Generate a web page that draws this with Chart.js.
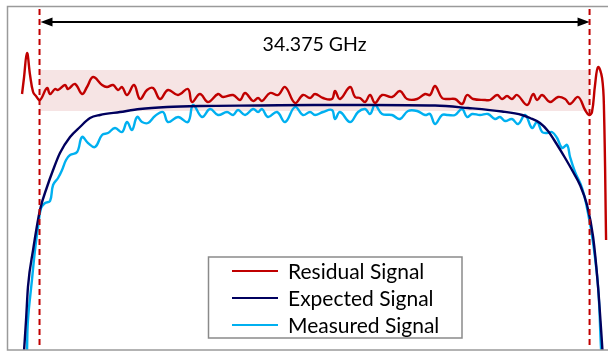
<!DOCTYPE html>
<html lang="en">
<head>
<meta charset="UTF-8">
<title>Signal spectrum</title>
<script src="https://cdn.jsdelivr.net/npm/chart.js"></script>
<style>
  html, body { margin: 0; padding: 0; background: #fff; overflow: hidden; }
  canvas { display: block; }
</style>
</head>
<body>
<canvas id="spectrum" width="608" height="353"></canvas>
<script>
// frequency offset from band centre (GHz) and relative level (dB)
const resFreq = [
  -18.28, -18.16, -17.97, -17.78, -17.59, -17.41, -17.16, -16.72, -16.53, -16.22,
  -16.03, -15.59, -15.41, -14.97, -14.53, -14.22, -13.84, -13.28, -12.97, -12.59,
  -12.28, -12.03, -11.72, -11.28, -10.91, -10.47, -10.09, -9.66, -9.16, -8.53,
  -7.91, -7.66, -7.16, -6.66, -6.03, -5.72, -5.09, -4.66, -4.34, -3.84,
  -3.53, -3.28, -2.78, -2.28, -1.84, -1.22, -0.72, -0.28, 0.03, 0.53,
  1.09, 1.28, 1.59, 2.22, 2.53, 2.84, 3.16, 3.47, 3.78, 4.22,
  4.84, 5.34, 5.78, 6.41, 6.91, 7.22, 7.53, 7.97, 8.34, 8.78,
  9.22, 9.53, 9.91, 10.66, 10.97, 11.41, 11.72, 12.03, 12.34, 12.66,
  13.28, 13.66, 13.91, 14.22, 14.72, 15.22, 15.66, 15.97, 16.47, 16.91,
  17.16, 17.34, 17.53, 17.72, 17.97, 18.09, 18.22
];
const resLevel = [
  -8.8, -7.2, -4.7, -6.9, -8.6, -9.0, -9.4, -8.2, -8.8, -8.3,
  -8.4, -7.9, -8.3, -7.8, -8.8, -8.1, -7.1, -7.9, -8.1, -7.9,
  -8.4, -8.1, -8.9, -7.9, -9.3, -8.4, -8.2, -9.3, -8.4, -8.9,
  -8.3, -9.6, -8.8, -9.6, -8.8, -9.1, -8.9, -9.4, -8.7, -9.5,
  -9.2, -9.5, -8.7, -8.9, -8.1, -9.7, -8.9, -9.2, -8.8, -9.2,
  -9.3, -8.5, -9.3, -8.1, -9.1, -9.2, -9.6, -8.9, -9.7, -8.9,
  -9.1, -8.5, -9.3, -9.3, -8.8, -8.9, -8.0, -9.2, -9.3, -9.3,
  -9.8, -8.9, -9.3, -9.4, -9.4, -8.9, -9.3, -9.0, -9.3, -8.9,
  -9.9, -8.8, -9.4, -8.9, -9.6, -9.1, -9.3, -9.8, -9.1, -10.4,
  -10.9, -10.6, -7.9, -6.1, -7.2, -10.4, -23.4
];

const expFreq = [
  -18.16, -18.03, -17.91, -17.59, -17.16, -16.72, -16.34, -15.91, -15.28, -14.66,
  -14.03, -13.41, -12.16, -10.91, -9.22, -7.16, -3.41, -0.03, 3.47, 7.53,
  9.59, 11.72, 12.97, 13.47, 14.09, 14.59, 15.09, 15.66, 16.16, 16.59,
  17.03, 17.41, 17.72, 17.91, 18.0
];
const expLevel = [
  -34.6, -31.4, -28.1, -24.4, -20.4, -18.1, -16.4, -14.7, -13.1, -12.1,
  -11.2, -10.9, -10.6, -10.3, -10.1, -10.0, -9.95, -9.9, -9.9, -9.95,
  -10.2, -10.55, -10.9, -11.2, -11.7, -12.5, -13.7, -15.2, -16.6, -17.9,
  -19.9, -23.1, -28.1, -32.4, -34.6
];

const measFreq = [
  -17.97, -17.91, -17.66, -17.47, -17.28, -17.09, -16.84, -16.53, -16.34, -16.03,
  -15.78, -15.53, -15.28, -14.84, -14.53, -14.16, -13.72, -13.28, -12.91, -12.47,
  -12.03, -11.72, -11.41, -11.09, -10.78, -10.41, -9.97, -9.47, -9.16, -8.53,
  -7.91, -7.59, -7.03, -6.53, -6.03, -5.47, -5.09, -4.78, -4.34, -3.84,
  -3.53, -3.28, -2.91, -2.34, -1.84, -1.22, -0.72, -0.28, 0.03, 0.53,
  1.09, 1.28, 1.59, 2.22, 2.72, 3.16, 3.47, 3.78, 4.22, 4.84,
  5.34, 5.84, 6.41, 6.91, 7.22, 7.53, 7.97, 8.34, 8.78, 9.22,
  9.53, 9.84, 10.34, 10.84, 11.28, 11.59, 11.91, 12.34, 12.72, 13.16,
  13.59, 13.91, 14.22, 14.53, 14.84, 15.16, 15.47, 15.78, 15.97, 16.28,
  16.72, 17.09, 17.41, 17.72, 17.91, 17.97
];
const measLevel = [
  -34.6, -31.4, -27.4, -24.4, -22.1, -20.2, -19.7, -19.5, -17.9, -17.2,
  -16.4, -15.4, -14.9, -14.6, -13.1, -13.7, -14.1, -12.9, -12.7, -12.2,
  -12.6, -11.6, -12.4, -11.1, -11.6, -11.7, -11.0, -10.6, -11.6, -11.1,
  -11.6, -9.9, -11.1, -10.3, -10.9, -10.6, -10.9, -10.4, -10.9, -10.3,
  -10.6, -10.3, -11.1, -10.6, -11.6, -10.1, -10.9, -10.6, -10.9, -10.6,
  -10.4, -11.3, -10.6, -11.6, -10.6, -10.3, -10.8, -9.9, -10.8, -10.9,
  -11.3, -10.5, -10.5, -10.9, -10.8, -11.8, -10.9, -10.9, -10.9, -10.3,
  -11.1, -10.8, -10.9, -10.8, -11.3, -11.1, -11.5, -11.3, -11.8, -10.9,
  -12.2, -11.6, -12.6, -12.7, -12.6, -13.2, -14.2, -13.9, -15.1, -16.6,
  -18.2, -20.7, -23.7, -28.1, -34.4, -35.4
];

const seriesNames = ['Residual Signal', 'Expected Signal', 'Measured Signal'];
const bandwidthGHz = 34.375;
const bandLevels = [-6.4, -10.5];   // shaded residual tolerance band

const toPoints = (fs, ls) => fs.map((f, i) => ({ x: f, y: ls[i] }));

const FONT = '"Lato", "Open Sans", sans-serif';

const overlay = {
  id: 'overlay',
  beforeDatasetsDraw(chart) {
    const { ctx, scales: { x, y } } = chart;
    const x0 = x.getPixelForValue(-bandwidthGHz / 2);
    const x1 = x.getPixelForValue(bandwidthGHz / 2);
    const y0 = y.getPixelForValue(bandLevels[0]);
    const y1 = y.getPixelForValue(bandLevels[1]);
    ctx.save();
    ctx.fillStyle = '#f6e4e4';
    ctx.fillRect(x0, y0, x1 - x0, y1 - y0);
    ctx.restore();
  },
  afterDatasetsDraw(chart) {
    const { ctx, chartArea: a, scales: { x } } = chart;
    const xl = x.getPixelForValue(-bandwidthGHz / 2);
    const xr = x.getPixelForValue(bandwidthGHz / 2);
    ctx.save();

    // plot frame (right edge runs off the canvas)
    ctx.strokeStyle = '#9a9a9a';
    ctx.lineWidth = 1.5;
    ctx.beginPath();
    ctx.moveTo(a.right + 2, a.top + 0.5);
    ctx.lineTo(a.left + 0.5, a.top + 0.5);
    ctx.lineTo(a.left + 0.5, a.bottom);
    ctx.lineTo(a.right + 2, a.bottom);
    ctx.stroke();

    // band edges
    ctx.strokeStyle = '#c00000';
    ctx.lineWidth = 2;
    ctx.setLineDash([6, 4]);
    [xl, xr].forEach(px => {
      ctx.beginPath();
      ctx.moveTo(px, a.top + 3);
      ctx.lineTo(px, a.bottom - 5);
      ctx.stroke();
    });
    ctx.setLineDash([]);

    // bandwidth arrow
    const ay = 22;
    ctx.strokeStyle = '#000';
    ctx.fillStyle = '#000';
    ctx.lineWidth = 2;
    ctx.beginPath();
    ctx.moveTo(xl + 10, ay);
    ctx.lineTo(xr - 10, ay);
    ctx.stroke();
    ctx.beginPath();
    ctx.moveTo(xl + 1, ay); ctx.lineTo(xl + 13, ay - 4.5); ctx.lineTo(xl + 13, ay + 4.5);
    ctx.closePath(); ctx.fill();
    ctx.beginPath();
    ctx.moveTo(xr, ay); ctx.lineTo(xr - 12, ay - 4.5); ctx.lineTo(xr - 12, ay + 4.5);
    ctx.closePath(); ctx.fill();

    ctx.font = '19.5px ' + FONT;
    ctx.textAlign = 'center';
    ctx.textBaseline = 'middle';
    ctx.fillText(bandwidthGHz + ' GHz', (xl + xr) / 2, 45);

    // legend
    const lx = 208.5, ly = 257, lw = 253.5, lh = 81;
    ctx.fillStyle = '#fff';
    ctx.fillRect(lx, ly, lw, lh);
    ctx.strokeStyle = '#8a8a8a';
    ctx.lineWidth = 1.5;
    ctx.strokeRect(lx, ly, lw, lh);
    ctx.font = '21px ' + FONT;
    ctx.textAlign = 'left';
    chart.data.datasets.forEach((ds, i) => {
      const ry = 271 + i * 27;
      ctx.strokeStyle = ds.borderColor;
      ctx.lineWidth = 2;
      ctx.beginPath();
      ctx.moveTo(232, ry);
      ctx.lineTo(278, ry);
      ctx.stroke();
      ctx.fillStyle = '#000';
      ctx.fillText(ds.label, 288, ry + 1);
    });
    ctx.restore();
  }
};

new Chart(document.getElementById('spectrum'), {
  type: 'line',
  data: {
    datasets: [
      {
        label: seriesNames[0],
        data: toPoints(resFreq, resLevel),
        borderColor: '#c00000',
        borderWidth: 2.4,
        tension: 0.4
      },
      {
        label: seriesNames[1],
        data: toPoints(expFreq, expLevel),
        borderColor: '#00005e',
        borderWidth: 2.4,
        cubicInterpolationMode: 'monotone'
      },
      {
        label: seriesNames[2],
        data: toPoints(measFreq, measLevel),
        borderColor: '#00b0f0',
        borderWidth: 2.4,
        tension: 0.4
      }
    ]
  },
  options: {
    responsive: false,
    animation: false,
    events: [],
    elements: { point: { radius: 0 } },
    layout: { padding: { left: 7, top: 6, right: 0, bottom: 3 } },
    scales: {
      x: { type: 'linear', min: -19.22, max: 18.34, display: false },
      y: { type: 'linear', min: -34.4, max: 0, display: false }
    },
    plugins: {
      legend: { display: false },
      tooltip: { enabled: false }
    }
  },
  plugins: [overlay]
});
</script>
</body>
</html>
